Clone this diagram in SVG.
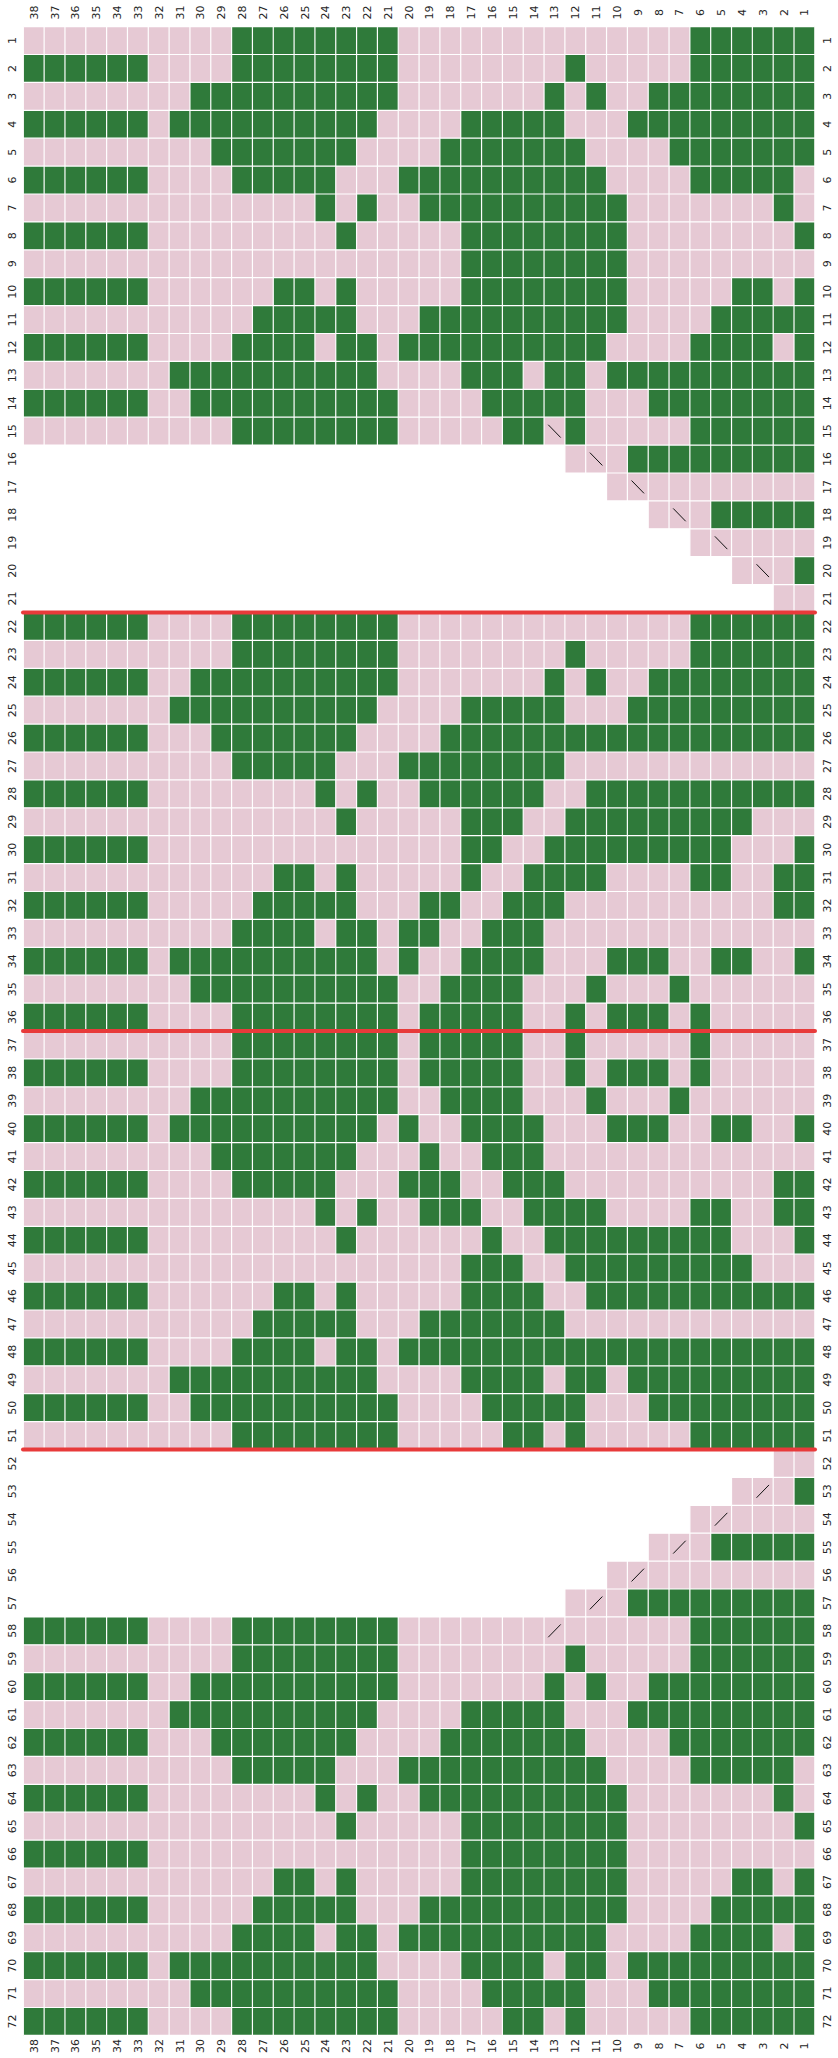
<svg xmlns="http://www.w3.org/2000/svg" width="838" height="2058" viewBox="0 0 838 2058">
<style>
.p{fill:#e6c9d4}
.g{fill:#2f7a3a}
.grid{fill:none;stroke:#ffffff;stroke-width:1.2;vector-effect:non-scaling-stroke}
.sl{fill:none;stroke:#111111;stroke-width:1;vector-effect:non-scaling-stroke}
.red{stroke:#e83a3a;stroke-width:4;stroke-linecap:round}
.l,.l tspan{font-family:"DejaVu Sans",sans-serif;font-size:11px;fill:#262626;text-anchor:middle;dominant-baseline:central}
</style>
<rect width="838" height="2058" fill="#ffffff"/>
<g id="chart" transform="translate(23.3 26.6) scale(20.83 27.9)">
<path class="p" d="M0 0h38v15h-38z M26 15h12v1h-12z M28 16h10v1h-10z M30 17h8v1h-8z M32 18h6v1h-6z M34 19h4v1h-4z M36 20h2v1h-2z M0 21h38v30h-38z M36 51h2v1h-2z M34 52h4v1h-4z M32 53h6v1h-6z M30 54h8v1h-8z M28 55h10v1h-10z M26 56h12v1h-12z M0 57h38v15h-38z"/>
<path class="g" d="
M10 0h8v1h-8z M32 0h6v1h-6z
M0 1h6v1h-6z M10 1h8v1h-8z M26 1h1v1h-1z M32 1h6v1h-6z
M8 2h10v1h-10z M25 2h1v1h-1z M27 2h1v1h-1z M30 2h8v1h-8z
M0 3h6v1h-6z M7 3h10v1h-10z M21 3h5v1h-5z M29 3h9v1h-9z
M9 4h7v1h-7z M20 4h7v1h-7z M31 4h7v1h-7z
M0 5h6v1h-6z M10 5h5v1h-5z M18 5h10v1h-10z M32 5h5v1h-5z
M14 6h1v1h-1z M16 6h1v1h-1z M19 6h10v1h-10z M36 6h1v1h-1z
M0 7h6v1h-6z M15 7h1v1h-1z M21 7h8v1h-8z M37 7h1v1h-1z
M21 8h8v1h-8z
M0 9h6v1h-6z M12 9h2v1h-2z M15 9h1v1h-1z M21 9h8v1h-8z M34 9h2v1h-2z M37 9h1v1h-1z
M11 10h5v1h-5z M19 10h10v1h-10z M33 10h5v1h-5z
M0 11h6v1h-6z M10 11h4v1h-4z M15 11h2v1h-2z M18 11h10v1h-10z M32 11h4v1h-4z M37 11h1v1h-1z
M7 12h10v1h-10z M21 12h3v1h-3z M25 12h2v1h-2z M28 12h10v1h-10z
M0 13h6v1h-6z M8 13h10v1h-10z M22 13h5v1h-5z M30 13h8v1h-8z
M10 14h8v1h-8z M23 14h2v1h-2z M26 14h1v1h-1z M32 14h6v1h-6z
M29 15h9v1h-9z
M33 17h5v1h-5z
M37 19h1v1h-1z
M0 21h6v1h-6z M10 21h8v1h-8z M32 21h6v1h-6z
M10 22h8v1h-8z M26 22h1v1h-1z M32 22h6v1h-6z
M0 23h6v1h-6z M8 23h10v1h-10z M25 23h1v1h-1z M27 23h1v1h-1z M30 23h8v1h-8z
M7 24h10v1h-10z M21 24h5v1h-5z M29 24h9v1h-9z
M0 25h6v1h-6z M9 25h7v1h-7z M20 25h18v1h-18z
M10 26h5v1h-5z M18 26h8v1h-8z
M0 27h6v1h-6z M14 27h1v1h-1z M16 27h1v1h-1z M19 27h6v1h-6z M27 27h11v1h-11z
M15 28h1v1h-1z M21 28h3v1h-3z M26 28h9v1h-9z
M0 29h6v1h-6z M21 29h2v1h-2z M25 29h9v1h-9z M37 29h1v1h-1z
M12 30h2v1h-2z M15 30h1v1h-1z M21 30h1v1h-1z M24 30h4v1h-4z M32 30h2v1h-2z M36 30h2v1h-2z
M0 31h6v1h-6z M11 31h5v1h-5z M19 31h2v1h-2z M23 31h3v1h-3z M36 31h2v1h-2z
M10 32h4v1h-4z M15 32h2v1h-2z M18 32h2v1h-2z M22 32h3v1h-3z
M0 33h6v1h-6z M7 33h10v1h-10z M18 33h1v1h-1z M21 33h4v1h-4z M28 33h3v1h-3z M33 33h2v1h-2z M37 33h1v1h-1z
M8 34h10v1h-10z M20 34h4v1h-4z M27 34h1v1h-1z M31 34h1v1h-1z
M0 35h6v1h-6z M10 35h8v1h-8z M19 35h5v1h-5z M26 35h1v1h-1z M28 35h3v1h-3z M32 35h1v1h-1z
M10 36h8v1h-8z M19 36h5v1h-5z M26 36h1v1h-1z M32 36h1v1h-1z
M0 37h6v1h-6z M10 37h8v1h-8z M19 37h5v1h-5z M26 37h1v1h-1z M28 37h3v1h-3z M32 37h1v1h-1z
M8 38h10v1h-10z M20 38h4v1h-4z M27 38h1v1h-1z M31 38h1v1h-1z
M0 39h6v1h-6z M7 39h10v1h-10z M18 39h1v1h-1z M21 39h4v1h-4z M28 39h3v1h-3z M33 39h2v1h-2z M37 39h1v1h-1z
M9 40h7v1h-7z M19 40h1v1h-1z M22 40h3v1h-3z
M0 41h6v1h-6z M10 41h5v1h-5z M18 41h3v1h-3z M23 41h3v1h-3z M36 41h2v1h-2z
M14 42h1v1h-1z M16 42h1v1h-1z M19 42h3v1h-3z M24 42h4v1h-4z M32 42h2v1h-2z M36 42h2v1h-2z
M0 43h6v1h-6z M15 43h1v1h-1z M22 43h1v1h-1z M25 43h9v1h-9z M37 43h1v1h-1z
M21 44h3v1h-3z M26 44h9v1h-9z
M0 45h6v1h-6z M12 45h2v1h-2z M15 45h1v1h-1z M21 45h4v1h-4z M27 45h11v1h-11z
M11 46h5v1h-5z M19 46h7v1h-7z
M0 47h6v1h-6z M10 47h4v1h-4z M15 47h2v1h-2z M18 47h20v1h-20z
M7 48h10v1h-10z M21 48h4v1h-4z M26 48h2v1h-2z M29 48h9v1h-9z
M0 49h6v1h-6z M8 49h10v1h-10z M22 49h5v1h-5z M30 49h8v1h-8z
M10 50h8v1h-8z M23 50h2v1h-2z M26 50h1v1h-1z M32 50h6v1h-6z
M37 52h1v1h-1z
M33 54h5v1h-5z
M29 56h9v1h-9z
M0 57h6v1h-6z M10 57h8v1h-8z M32 57h6v1h-6z
M10 58h8v1h-8z M26 58h1v1h-1z M32 58h6v1h-6z
M0 59h6v1h-6z M8 59h10v1h-10z M25 59h1v1h-1z M27 59h1v1h-1z M30 59h8v1h-8z
M7 60h10v1h-10z M21 60h5v1h-5z M29 60h9v1h-9z
M0 61h6v1h-6z M9 61h7v1h-7z M20 61h7v1h-7z M31 61h7v1h-7z
M10 62h5v1h-5z M18 62h10v1h-10z M32 62h5v1h-5z
M0 63h6v1h-6z M14 63h1v1h-1z M16 63h1v1h-1z M19 63h10v1h-10z M36 63h1v1h-1z
M15 64h1v1h-1z M21 64h8v1h-8z M37 64h1v1h-1z
M0 65h6v1h-6z M21 65h8v1h-8z
M12 66h2v1h-2z M15 66h1v1h-1z M21 66h8v1h-8z M34 66h2v1h-2z M37 66h1v1h-1z
M0 67h6v1h-6z M11 67h5v1h-5z M19 67h10v1h-10z M33 67h5v1h-5z
M10 68h4v1h-4z M15 68h2v1h-2z M18 68h10v1h-10z M32 68h4v1h-4z M37 68h1v1h-1z
M0 69h6v1h-6z M7 69h10v1h-10z M21 69h4v1h-4z M26 69h2v1h-2z M29 69h9v1h-9z
M8 70h10v1h-10z M22 70h5v1h-5z M30 70h8v1h-8z
M0 71h6v1h-6z M10 71h8v1h-8z M23 71h2v1h-2z M26 71h1v1h-1z M32 71h6v1h-6z"/>
<path class="grid" d="M0 0V72M1 0V72M2 0V72M3 0V72M4 0V72M5 0V72M6 0V72M7 0V72M8 0V72M9 0V72M10 0V72M11 0V72M12 0V72M13 0V72M14 0V72M15 0V72M16 0V72M17 0V72M18 0V72M19 0V72M20 0V72M21 0V72M22 0V72M23 0V72M24 0V72M25 0V72M26 0V72M27 0V72M28 0V72M29 0V72M30 0V72M31 0V72M32 0V72M33 0V72M34 0V72M35 0V72M36 0V72M37 0V72M38 0V72
M0 0H38M0 1H38M0 2H38M0 3H38M0 4H38M0 5H38M0 6H38M0 7H38M0 8H38M0 9H38M0 10H38M0 11H38M0 12H38M0 13H38M0 14H38M0 15H38M0 16H38M0 17H38M0 18H38M0 19H38M0 20H38M0 21H38M0 22H38M0 23H38M0 24H38M0 25H38M0 26H38M0 27H38M0 28H38M0 29H38M0 30H38M0 31H38M0 32H38M0 33H38M0 34H38M0 35H38M0 36H38M0 37H38M0 38H38M0 39H38M0 40H38M0 41H38M0 42H38M0 43H38M0 44H38M0 45H38M0 46H38M0 47H38M0 48H38M0 49H38M0 50H38M0 51H38M0 52H38M0 53H38M0 54H38M0 55H38M0 56H38M0 57H38M0 58H38M0 59H38M0 60H38M0 61H38M0 62H38M0 63H38M0 64H38M0 65H38M0 66H38M0 67H38M0 68H38M0 69H38M0 70H38M0 71H38M0 72H38"/>
<path class="sl" d="M25.2 14.27L25.8 14.73M27.2 15.27L27.8 15.73M29.2 16.27L29.8 16.73M31.2 17.27L31.8 17.73M33.2 18.27L33.8 18.73M35.2 19.27L35.8 19.73
M35.2 52.73L35.8 52.27M33.2 53.73L33.8 53.27M31.2 54.73L31.8 54.27M29.2 55.73L29.8 55.27M27.2 56.73L27.8 56.27M25.2 57.73L25.8 57.27"/>
</g>
<g id="dividers">
<line class="red" x1="23" y1="612.5" x2="815" y2="612.5"/>
<line class="red" x1="23" y1="1031" x2="815" y2="1031"/>
<line class="red" x1="23" y1="1449.5" x2="815" y2="1449.5"/>
</g>
<g id="labels" transform="rotate(-90)">
<text class="l" y="12"><tspan x="-40.55">1</tspan><tspan x="-68.45">2</tspan><tspan x="-96.35">3</tspan><tspan x="-124.25">4</tspan><tspan x="-152.15">5</tspan><tspan x="-180.05">6</tspan><tspan x="-207.95">7</tspan><tspan x="-235.85">8</tspan><tspan x="-263.75">9</tspan><tspan x="-291.65">10</tspan><tspan x="-319.55">11</tspan><tspan x="-347.45">12</tspan><tspan x="-375.35">13</tspan><tspan x="-403.25">14</tspan><tspan x="-431.15">15</tspan><tspan x="-459.05">16</tspan><tspan x="-486.95">17</tspan><tspan x="-514.85">18</tspan><tspan x="-542.75">19</tspan><tspan x="-570.65">20</tspan><tspan x="-598.55">21</tspan><tspan x="-626.45">22</tspan><tspan x="-654.35">23</tspan><tspan x="-682.25">24</tspan><tspan x="-710.15">25</tspan><tspan x="-738.05">26</tspan><tspan x="-765.95">27</tspan><tspan x="-793.85">28</tspan><tspan x="-821.75">29</tspan><tspan x="-849.65">30</tspan><tspan x="-877.55">31</tspan><tspan x="-905.45">32</tspan><tspan x="-933.35">33</tspan><tspan x="-961.25">34</tspan><tspan x="-989.15">35</tspan><tspan x="-1017.05">36</tspan><tspan x="-1044.95">37</tspan><tspan x="-1072.85">38</tspan><tspan x="-1100.75">39</tspan><tspan x="-1128.65">40</tspan><tspan x="-1156.55">41</tspan><tspan x="-1184.45">42</tspan><tspan x="-1212.35">43</tspan><tspan x="-1240.25">44</tspan><tspan x="-1268.15">45</tspan><tspan x="-1296.05">46</tspan><tspan x="-1323.95">47</tspan><tspan x="-1351.85">48</tspan><tspan x="-1379.75">49</tspan><tspan x="-1407.65">50</tspan><tspan x="-1435.55">51</tspan><tspan x="-1463.45">52</tspan><tspan x="-1491.35">53</tspan><tspan x="-1519.25">54</tspan><tspan x="-1547.15">55</tspan><tspan x="-1575.05">56</tspan><tspan x="-1602.95">57</tspan><tspan x="-1630.85">58</tspan><tspan x="-1658.75">59</tspan><tspan x="-1686.65">60</tspan><tspan x="-1714.55">61</tspan><tspan x="-1742.45">62</tspan><tspan x="-1770.35">63</tspan><tspan x="-1798.25">64</tspan><tspan x="-1826.15">65</tspan><tspan x="-1854.05">66</tspan><tspan x="-1881.95">67</tspan><tspan x="-1909.85">68</tspan><tspan x="-1937.75">69</tspan><tspan x="-1965.65">70</tspan><tspan x="-1993.55">71</tspan><tspan x="-2021.45">72</tspan></text>
<text class="l" y="826.5"><tspan x="-40.55">1</tspan><tspan x="-68.45">2</tspan><tspan x="-96.35">3</tspan><tspan x="-124.25">4</tspan><tspan x="-152.15">5</tspan><tspan x="-180.05">6</tspan><tspan x="-207.95">7</tspan><tspan x="-235.85">8</tspan><tspan x="-263.75">9</tspan><tspan x="-291.65">10</tspan><tspan x="-319.55">11</tspan><tspan x="-347.45">12</tspan><tspan x="-375.35">13</tspan><tspan x="-403.25">14</tspan><tspan x="-431.15">15</tspan><tspan x="-459.05">16</tspan><tspan x="-486.95">17</tspan><tspan x="-514.85">18</tspan><tspan x="-542.75">19</tspan><tspan x="-570.65">20</tspan><tspan x="-598.55">21</tspan><tspan x="-626.45">22</tspan><tspan x="-654.35">23</tspan><tspan x="-682.25">24</tspan><tspan x="-710.15">25</tspan><tspan x="-738.05">26</tspan><tspan x="-765.95">27</tspan><tspan x="-793.85">28</tspan><tspan x="-821.75">29</tspan><tspan x="-849.65">30</tspan><tspan x="-877.55">31</tspan><tspan x="-905.45">32</tspan><tspan x="-933.35">33</tspan><tspan x="-961.25">34</tspan><tspan x="-989.15">35</tspan><tspan x="-1017.05">36</tspan><tspan x="-1044.95">37</tspan><tspan x="-1072.85">38</tspan><tspan x="-1100.75">39</tspan><tspan x="-1128.65">40</tspan><tspan x="-1156.55">41</tspan><tspan x="-1184.45">42</tspan><tspan x="-1212.35">43</tspan><tspan x="-1240.25">44</tspan><tspan x="-1268.15">45</tspan><tspan x="-1296.05">46</tspan><tspan x="-1323.95">47</tspan><tspan x="-1351.85">48</tspan><tspan x="-1379.75">49</tspan><tspan x="-1407.65">50</tspan><tspan x="-1435.55">51</tspan><tspan x="-1463.45">52</tspan><tspan x="-1491.35">53</tspan><tspan x="-1519.25">54</tspan><tspan x="-1547.15">55</tspan><tspan x="-1575.05">56</tspan><tspan x="-1602.95">57</tspan><tspan x="-1630.85">58</tspan><tspan x="-1658.75">59</tspan><tspan x="-1686.65">60</tspan><tspan x="-1714.55">61</tspan><tspan x="-1742.45">62</tspan><tspan x="-1770.35">63</tspan><tspan x="-1798.25">64</tspan><tspan x="-1826.15">65</tspan><tspan x="-1854.05">66</tspan><tspan x="-1881.95">67</tspan><tspan x="-1909.85">68</tspan><tspan x="-1937.75">69</tspan><tspan x="-1965.65">70</tspan><tspan x="-1993.55">71</tspan><tspan x="-2021.45">72</tspan></text>
<text class="l"><tspan x="-12.5" y="33.72">38</tspan><tspan x="-12.5" y="54.55">37</tspan><tspan x="-12.5" y="75.38">36</tspan><tspan x="-12.5" y="96.21">35</tspan><tspan x="-12.5" y="117.04">34</tspan><tspan x="-12.5" y="137.87">33</tspan><tspan x="-12.5" y="158.7">32</tspan><tspan x="-12.5" y="179.53">31</tspan><tspan x="-12.5" y="200.36">30</tspan><tspan x="-12.5" y="221.19">29</tspan><tspan x="-12.5" y="242.02">28</tspan><tspan x="-12.5" y="262.85">27</tspan><tspan x="-12.5" y="283.68">26</tspan><tspan x="-12.5" y="304.51">25</tspan><tspan x="-12.5" y="325.34">24</tspan><tspan x="-12.5" y="346.17">23</tspan><tspan x="-12.5" y="367">22</tspan><tspan x="-12.5" y="387.83">21</tspan><tspan x="-12.5" y="408.66">20</tspan><tspan x="-12.5" y="429.49">19</tspan><tspan x="-12.5" y="450.32">18</tspan><tspan x="-12.5" y="471.15">17</tspan><tspan x="-12.5" y="491.98">16</tspan><tspan x="-12.5" y="512.81">15</tspan><tspan x="-12.5" y="533.64">14</tspan><tspan x="-12.5" y="554.47">13</tspan><tspan x="-12.5" y="575.3">12</tspan><tspan x="-12.5" y="596.13">11</tspan><tspan x="-12.5" y="616.96">10</tspan><tspan x="-12.5" y="637.79">9</tspan><tspan x="-12.5" y="658.62">8</tspan><tspan x="-12.5" y="679.45">7</tspan><tspan x="-12.5" y="700.28">6</tspan><tspan x="-12.5" y="721.11">5</tspan><tspan x="-12.5" y="741.94">4</tspan><tspan x="-12.5" y="762.77">3</tspan><tspan x="-12.5" y="783.6">2</tspan><tspan x="-12.5" y="804.43">1</tspan></text>
<text class="l"><tspan x="-2046" y="33.72">38</tspan><tspan x="-2046" y="54.55">37</tspan><tspan x="-2046" y="75.38">36</tspan><tspan x="-2046" y="96.21">35</tspan><tspan x="-2046" y="117.04">34</tspan><tspan x="-2046" y="137.87">33</tspan><tspan x="-2046" y="158.7">32</tspan><tspan x="-2046" y="179.53">31</tspan><tspan x="-2046" y="200.36">30</tspan><tspan x="-2046" y="221.19">29</tspan><tspan x="-2046" y="242.02">28</tspan><tspan x="-2046" y="262.85">27</tspan><tspan x="-2046" y="283.68">26</tspan><tspan x="-2046" y="304.51">25</tspan><tspan x="-2046" y="325.34">24</tspan><tspan x="-2046" y="346.17">23</tspan><tspan x="-2046" y="367">22</tspan><tspan x="-2046" y="387.83">21</tspan><tspan x="-2046" y="408.66">20</tspan><tspan x="-2046" y="429.49">19</tspan><tspan x="-2046" y="450.32">18</tspan><tspan x="-2046" y="471.15">17</tspan><tspan x="-2046" y="491.98">16</tspan><tspan x="-2046" y="512.81">15</tspan><tspan x="-2046" y="533.64">14</tspan><tspan x="-2046" y="554.47">13</tspan><tspan x="-2046" y="575.3">12</tspan><tspan x="-2046" y="596.13">11</tspan><tspan x="-2046" y="616.96">10</tspan><tspan x="-2046" y="637.79">9</tspan><tspan x="-2046" y="658.62">8</tspan><tspan x="-2046" y="679.45">7</tspan><tspan x="-2046" y="700.28">6</tspan><tspan x="-2046" y="721.11">5</tspan><tspan x="-2046" y="741.94">4</tspan><tspan x="-2046" y="762.77">3</tspan><tspan x="-2046" y="783.6">2</tspan><tspan x="-2046" y="804.43">1</tspan></text>
</g>
</svg>
